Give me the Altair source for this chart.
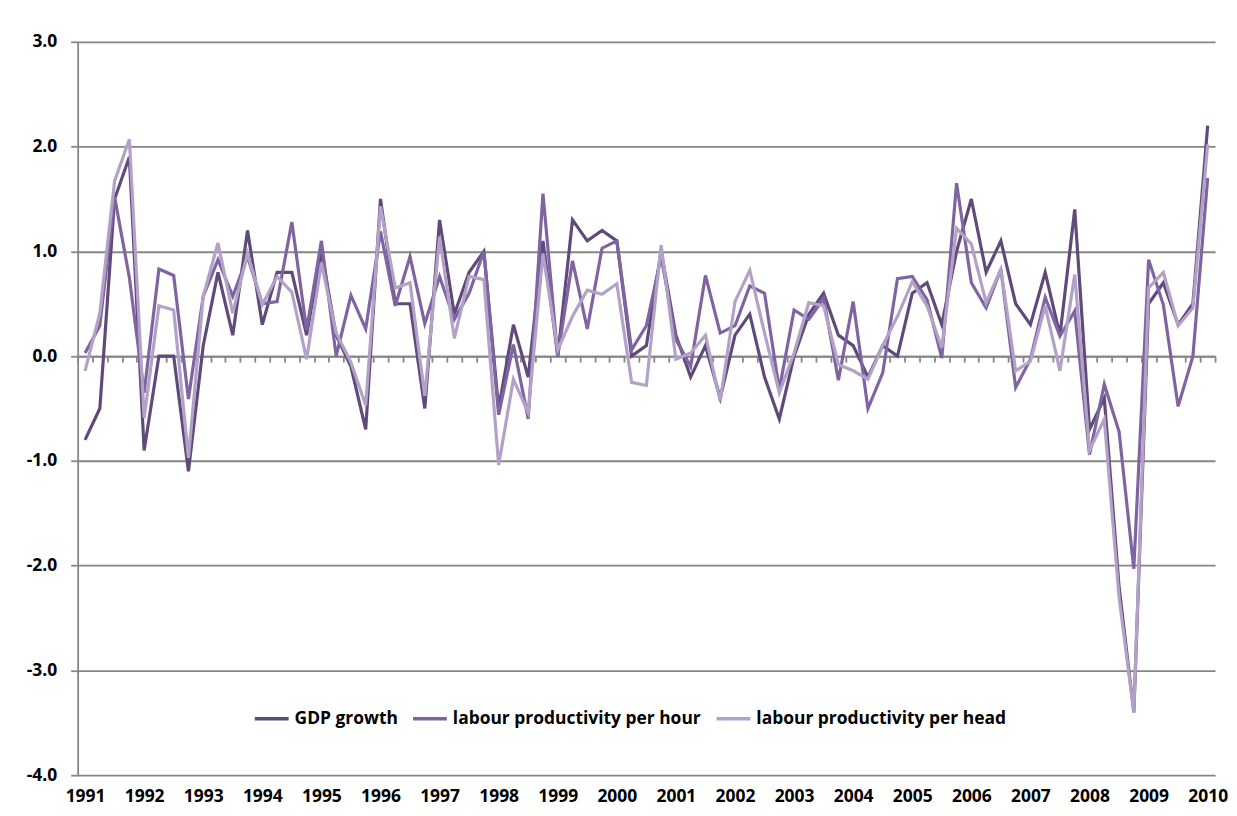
import altair as alt
import pandas as pd

first_year = 1991
series_names = ["GDP growth", "labour productivity per hour", "labour productivity per head"]
series_colors = ["#604A7B", "#8064A2", "#B3A2C7"]

gdp_growth = [-0.8, -0.5, 1.5, 1.9, -0.9, 0.0, 0.0, -1.1, 0.1, 0.8,
              0.2, 1.2, 0.3, 0.8, 0.8, 0.2, 1.0, 0.2, -0.1, -0.7,
              1.5, 0.5, 0.5, -0.5, 1.3, 0.4, 0.8, 1.0, -0.5, 0.3,
              -0.2, 1.1, 0.0, 1.3, 1.1, 1.2, 1.1, 0.0, 0.1, 1.0,
              0.2, -0.2, 0.1, -0.4, 0.2, 0.4, -0.2, -0.6, 0.0, 0.4,
              0.6, 0.2, 0.1, -0.2, 0.1, 0.0, 0.6, 0.7, 0.3, 1.0,
              1.5, 0.8, 1.1, 0.5, 0.3, 0.8, 0.2, 1.4, -0.7, -0.4,
              -2.2, -3.4, 0.5, 0.7, 0.3, 0.5, 2.2]
prod_per_hour = [0.03, 0.29, 1.52, 0.75, -0.35, 0.83, 0.77, -0.41, 0.57, 0.92,
                 0.57, 0.95, 0.5, 0.52, 1.28, 0.25, 1.1, 0.0, 0.58, 0.26,
                 1.19, 0.48, 0.95, 0.31, 0.76, 0.35, 0.6, 1.0, -0.56, 0.11,
                 -0.6, 1.55, 0.0, 0.91, 0.26, 1.03, 1.1, 0.06, 0.29, 0.95,
                 0.16, -0.1, 0.77, 0.22, 0.29, 0.67, 0.6, -0.32, 0.44, 0.35,
                 0.55, -0.23, 0.52, -0.5, -0.16, 0.74, 0.76, 0.54, -0.02, 1.65,
                 0.7, 0.46, 0.83, -0.3, -0.03, 0.56, 0.19, 0.43, -0.94, -0.27,
                 -0.72, -2.03, 0.92, 0.49, -0.48, 0.0, 1.7]
prod_per_head = [-0.14, 0.41, 1.67, 2.07, -0.59, 0.48, 0.44, -0.97, 0.57, 1.08,
                 0.41, 0.98, 0.49, 0.76, 0.61, -0.03, 0.89, 0.22, -0.06, -0.47,
                 1.43, 0.65, 0.7, -0.38, 1.14, 0.17, 0.76, 0.73, -1.04, -0.22,
                 -0.54, 0.98, 0.06, 0.38, 0.63, 0.59, 0.69, -0.25, -0.28, 1.06,
                 -0.03, 0.03, 0.2, -0.43, 0.52, 0.82, 0.22, -0.35, 0.03, 0.51,
                 0.48, -0.08, -0.14, -0.22, 0.1, 0.38, 0.71, 0.48, 0.08, 1.22,
                 1.07, 0.51, 0.83, -0.14, -0.05, 0.48, -0.14, 0.78, -0.9, -0.6,
                 -2.3, -3.4, 0.65, 0.8, 0.29, 0.46, 2.02]
y_ticks = [-4, -3, -2, -1, 0, 1, 2, 3]

n = len(gdp_growth)
quarters = [f"{first_year + i // 4}Q{i % 4 + 1}" for i in range(n)]

rows = []
for name, vals in zip(series_names, [gdp_growth, prod_per_hour, prod_per_head]):
    for i, v in enumerate(vals):
        rows.append({"pos": i + 0.5, "quarter": quarters[i], "series": name, "value": v})
df = pd.DataFrame(rows)

W, H = 1143, 737
ymin, ymax = -4, 3
zero_from_bottom = H * (0 - ymin) / (ymax - ymin)
FONT = "Open Sans"
GREY = "#868686"

x_enc = alt.X(
    "pos:Q",
    scale=alt.Scale(domain=[0, n], nice=False, zero=False),
    axis=alt.Axis(
        values=list(range(n + 1)),
        labelExpr=f"datum.value % 4 == 0 ? '' + ({first_year} + datum.value / 4) : ''",
        labelOffset=W / n / 2,
        labelOverlap=False,
        labelFlush=False,
        labelBound=False,
        labelPadding=zero_from_bottom - 6 + 21,
        labelBaseline="middle",
        offset=-zero_from_bottom,
        title=None,
        grid=False,
        domainColor=GREY,
        domainWidth=1.8,
        tickColor=GREY,
        tickWidth=1.8,
        tickSize=6,
        labelFont=FONT,
        labelFontSize=17.5,
        labelFontWeight="bold",
        labelColor="#000000",
    ),
)
y_enc = alt.Y(
    "value:Q",
    scale=alt.Scale(domain=[ymin, ymax], nice=False, zero=False),
    axis=alt.Axis(
        values=y_ticks,
        labelExpr="(datum.value < 0 ? '-' : '') + format(abs(datum.value), '.1f')",
        title=None,
        grid=True,
        gridColor=GREY,
        gridWidth=1.8,
        domainColor=GREY,
        domainWidth=1.8,
        tickColor=GREY,
        tickWidth=1.8,
        tickSize=7,
        labelPadding=14,
        labelFont=FONT,
        labelFontSize=17.5,
        labelFontWeight="bold",
        labelColor="#000000",
    ),
)
color_enc = alt.Color(
    "series:N",
    scale=alt.Scale(domain=series_names, range=series_colors),
    legend=alt.Legend(
        title=None,
        orient="none",
        legendX=176,
        legendY=661,
        direction="horizontal",
        symbolType="stroke",
        symbolSize=1156,
        symbolStrokeWidth=3.5,
        labelFont=FONT,
        labelFontSize=17.5,
        labelFontWeight="bold",
        labelColor="#000000",
        labelOffset=4,
        labelLimit=500,
        columnPadding=8,
        padding=0,
    ),
)

layers = []
for name in series_names:
    layers.append(
        alt.Chart(df)
        .transform_filter(alt.datum.series == name)
        .mark_line(strokeWidth=3.2)
        .encode(x=x_enc, y=y_enc, color=color_enc, order="pos:Q")
    )

chart = (
    alt.layer(*layers)
    .properties(
        width=W,
        height=H,
        padding={"left": 70, "top": 32, "right": 14, "bottom": 31},
        autosize=alt.AutoSizeParams(type="none"),
        background="#ffffff",
    )
    .configure_view(stroke=None)
)

chart.save("out.html", embed_options={"renderer": "svg", "actions": False})
